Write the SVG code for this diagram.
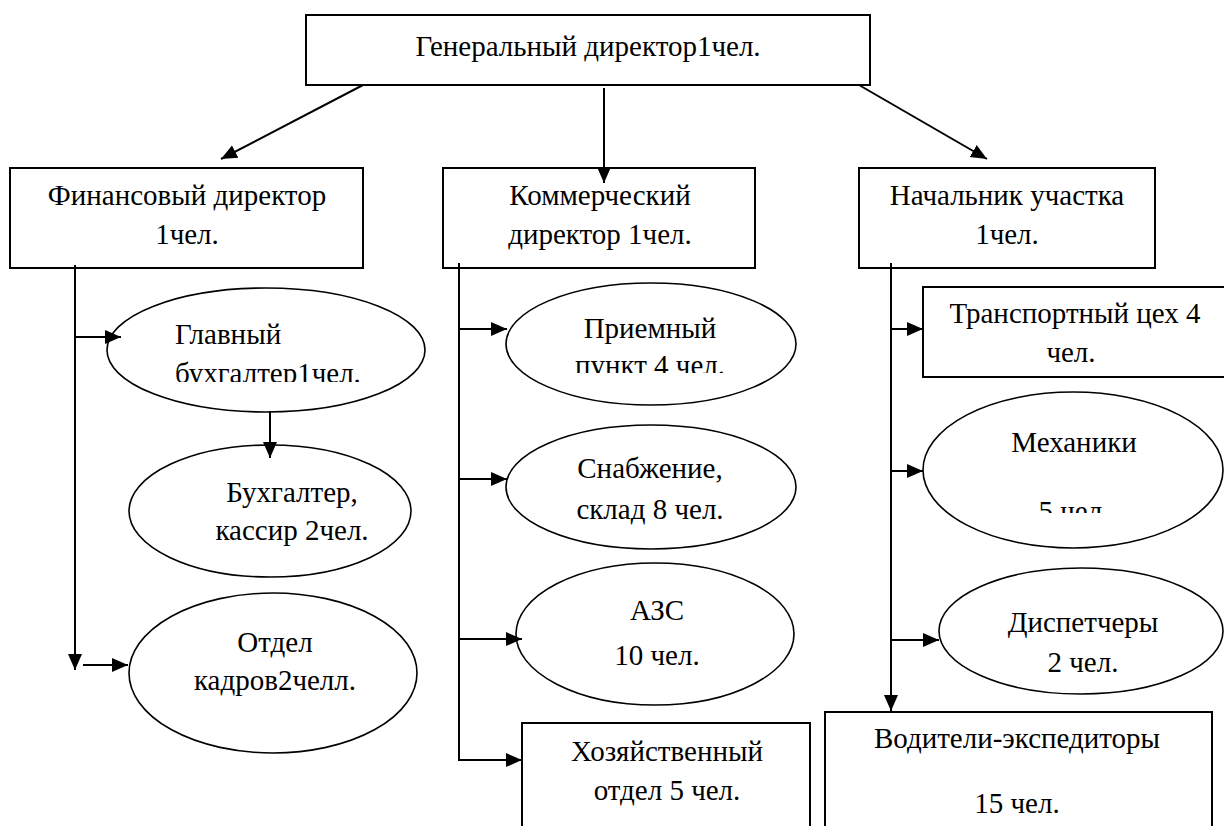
<svg xmlns="http://www.w3.org/2000/svg" width="1224" height="826" viewBox="0 0 1224 826">
<style>
.b{fill:#fff;stroke:#000;stroke-width:2}
.e{fill:#fff;stroke:#000;stroke-width:1.6}
.c{fill:none;stroke:#000;stroke-width:2}
text{font-family:"Liberation Serif","Times New Roman",serif;font-size:29px;fill:#000}
.m{text-anchor:middle}
</style>
<defs>
<marker id="ar" markerUnits="userSpaceOnUse" markerWidth="18" markerHeight="16" refX="16" refY="8" orient="auto"><path d="M0,1 L16,8 L0,15 Z" fill="#000"/></marker>
<clipPath id="c1"><rect x="100" y="280" width="330" height="102"/></clipPath>
<clipPath id="c2"><rect x="500" y="280" width="300" height="93"/></clipPath>
<clipPath id="c3"><rect x="900" y="380" width="324" height="133"/></clipPath>
</defs>
<g id="n-gen"><rect class="b" x="306" y="15" width="564" height="70"/><text class="m" x="588" y="56">Генеральный директор1чел.</text></g>
<g id="n-fin"><rect class="b" x="10" y="168" width="353" height="100"/><text class="m" x="187" y="205">Финансовый директор</text><text class="m" x="187" y="244">1чел.</text></g>
<g id="n-com"><rect class="b" x="443" y="168" width="312" height="100"/><text class="m" x="600" y="205">Коммерческий</text><text class="m" x="600" y="244">директор 1чел.</text></g>
<g id="n-uch"><rect class="b" x="859" y="168" width="296" height="100"/><text class="m" x="1007" y="205">Начальник участка</text><text class="m" x="1007" y="244">1чел.</text></g>
<g id="n-glb"><ellipse class="e" cx="266" cy="350" rx="159" ry="62"/><g clip-path="url(#c1)"><text x="175" y="344">Главный</text><text x="175" y="383">бухгалтер1чел.</text></g></g>
<g id="n-buh"><ellipse class="e" cx="270" cy="511" rx="141" ry="66"/><text class="m" x="292" y="502">Бухгалтер,</text><text class="m" x="292" y="540">кассир 2чел.</text></g>
<g id="n-kad"><ellipse class="e" cx="273" cy="673" rx="144" ry="80"/><text class="m" x="275" y="652">Отдел</text><text class="m" x="275" y="690">кадров2челл.</text></g>
<g id="n-pri"><ellipse class="e" cx="651" cy="344" rx="145" ry="61"/><g clip-path="url(#c2)"><text class="m" x="650" y="338">Приемный</text><text class="m" x="650" y="375">пункт 4 чел.</text></g></g>
<g id="n-sna"><ellipse class="e" cx="651" cy="487" rx="145" ry="62"/><text class="m" x="650" y="478">Снабжение,</text><text class="m" x="650" y="519">склад 8 чел.</text></g>
<g id="n-azs"><ellipse class="e" cx="655" cy="634" rx="139" ry="71"/><text class="m" x="657" y="620">АЗС</text><text class="m" x="657" y="665">10 чел.</text></g>
<g id="n-hoz"><rect class="b" x="522" y="723" width="288" height="120"/><text class="m" x="667" y="761">Хозяйственный</text><text class="m" x="667" y="800">отдел 5 чел.</text></g>
<g id="n-tra"><rect class="b" x="923" y="287" width="302" height="90"/><text class="m" x="1075" y="323">Транспортный цех 4</text><text class="m" x="1071" y="362">чел.</text></g>
<g id="n-meh"><ellipse class="e" cx="1073" cy="470" rx="150" ry="78"/><g clip-path="url(#c3)"><text class="m" x="1074" y="452">Механики</text><text class="m" x="1074" y="521">5 чел.</text></g></g>
<g id="n-dis"><ellipse class="e" cx="1081" cy="631" rx="142" ry="63"/><text class="m" x="1083" y="632">Диспетчеры</text><text class="m" x="1083" y="672">2 чел.</text></g>
<g id="n-vod"><rect class="b" x="825" y="712" width="387" height="130"/><text class="m" x="1017" y="748">Водители-экспедиторы</text><text class="m" x="1017" y="813">15 чел.</text></g>
<g id="connectors">
<line class="c" x1="363" y1="85" x2="221" y2="159" marker-end="url(#ar)"/>
<line class="c" x1="604" y1="88" x2="604" y2="183" marker-end="url(#ar)"/>
<line class="c" x1="859" y1="85" x2="987" y2="159" marker-end="url(#ar)"/>
<line class="c" x1="75" y1="265" x2="75" y2="670" marker-end="url(#ar)"/>
<line class="c" x1="75" y1="337" x2="121" y2="337" marker-end="url(#ar)"/>
<line class="c" x1="270" y1="411" x2="270" y2="458" marker-end="url(#ar)"/>
<line class="c" x1="83" y1="665" x2="128" y2="665" marker-end="url(#ar)"/>
<polyline class="c" points="459,263 459,760 522,760" marker-end="url(#ar)"/>
<line class="c" x1="459" y1="329" x2="507" y2="329" marker-end="url(#ar)"/>
<line class="c" x1="459" y1="479" x2="507" y2="479" marker-end="url(#ar)"/>
<line class="c" x1="459" y1="639" x2="522" y2="639" marker-end="url(#ar)"/>
<line class="c" x1="891" y1="263" x2="891" y2="711" marker-end="url(#ar)"/>
<line class="c" x1="891" y1="329" x2="923" y2="329" marker-end="url(#ar)"/>
<line class="c" x1="891" y1="471" x2="923" y2="471" marker-end="url(#ar)"/>
<line class="c" x1="891" y1="640" x2="939" y2="640" marker-end="url(#ar)"/>
</g>
</svg>
